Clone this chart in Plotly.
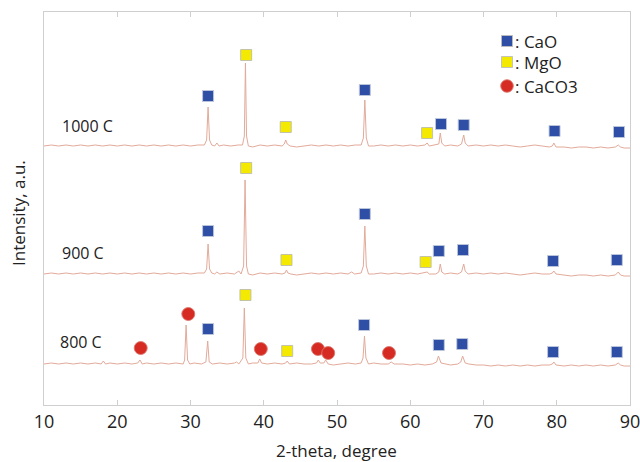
import plotly.graph_objects as go

# ---------------- data ----------------
samples = ["800 C", "900 C", "1000 C"]
offsets = [41, 131, 259]          # vertical stacking offset of each pattern (a.u.)

# XRD traces: (2-theta, intensity above own baseline)
pat_800 = [(10,0),(11,1),(12,0),(13,1),(14,0),(15,1),(16,0),(17,1),(17.8,0),(18.1,3),(18.4,0),(19,1),(20,0),(21,1),(22,0),
           (22.8,1),(23.1,4),(23.4,0),(24,1),(25,0),(26,1),(27,0),(28,1),(29,0),(29.2,4),(29.4,39),(29.6,4),(29.9,0),(30.5,1),
           (31.5,0),(32.1,2),(32.35,23),(32.55,2),(33,0),(34,1),(35,0),(36,1),(36.3,2),(36.6,0),(37.15,6),(37.35,56),(37.55,6),
           (37.9,0),(38.5,1),(39.2,1),(39.45,5),(39.7,1),(40.5,0),(41.5,1),(42.5,0),(43.0,1),(43.2,3),(43.5,0),(44.5,1),(45.5,0),
           (46.5,0),(47.2,1),(47.45,4),(47.7,1),(48.2,1),(48.45,4),(48.8,0),(49.5,-1),(50.5,0),(51.5,1),(52.5,0),(53.3,1),
           (53.55,6),(53.75,28),(53.95,6),(54.3,0),(55,1),(56,0),(57,0),(57.4,2),(57.8,0),(59,0),(60,-1),(61,0),(62,-1),(63,0),
           (63.6,2),(63.85,8),(64.2,1),(64.8,0),(65.5,-1),(66.5,0),(66.9,2),(67.15,8),(67.5,1),(68,0),(69,-1),(70,-1),(71,-2),
           (72,-1),(73,-2),(74,-1),(75,-2),(76,-1),(77,-2),(78,-1),(79,-1),(79.4,0),(79.6,2),(79.9,-1),(81,-2),(82,-1),(83,-2),
           (84,-1),(85,-2),(86,-1),(87,-2),(88,-1),(88.4,1),(88.7,-1),(89.2,-2),(90,-2)]
pat_900 = [(10,0),(11,1),(12,0),(13,1),(14,0),(15,1),(16,0),(17,1),(18,0),(19,1),(20,0),(21,1),(22,0),(23,1),(24,0),(25,1),
           (26,0),(27,1),(28,0),(29,1),(30,0),(31,1),(31.9,1),(32.2,5),(32.4,30),(32.6,5),(32.9,1),(33.3,0),(33.6,2),(34,0),
           (35,1),(36,0),(36.6,3),(36.9,0),(37.25,8),(37.45,94),(37.65,8),(37.9,0),(38.5,-1),(39.5,1),(40.5,0),(41.5,1),(42.5,0),
           (42.9,1),(43.1,4),(43.3,1),(43.7,0),(44.5,-1),(45.5,0),(46.5,1),(47.5,0),(48.5,1),(49.5,0),(50.5,1),(51.5,0),(52,2),
           (52.4,0),(53.3,1),(53.6,8),(53.8,48),(54.0,8),(54.3,0),(55,0),(56,1),(57,0),(58,1),(59,0),(60,1),(61,0),(62,1),
           (62.3,2),(62.6,0),(63.5,0),(63.9,2),(64.1,10),(64.3,2),(64.7,0),(65.5,1),(66.5,0),(67.0,2),(67.3,10),(67.5,3),(67.9,0),
           (69,1),(70,0),(71,1),(72,0),(73,1),(74,0),(75,-1),(76,0),(77,1),(78,0),(79,0),(79.4,1),(79.6,3),(79.9,0),(81,-1),
           (82,-2),(83,-1),(84,-1),(85,-2),(86,-1),(87,-2),(88,-1),(88.4,2),(88.7,-1),(89.2,-2),(90,-2)]
pat_1000 = [(10,0),(11,1),(12,0),(13,1),(14,0),(15,1),(16,0),(17,1),(18,0),(19,1),(20,0),(21,1),(22,0),(23,1),(24,0),(25,1),
            (26,0),(27,1),(28,0),(29,1),(30,0),(31,1),(31.9,1),(32.2,6),(32.4,39),(32.6,6),(32.9,1),(33.3,0),(33.6,3),(33.9,0),
            (34.5,1),(35.5,0),(36.5,1),(37.1,1),(37.35,10),(37.5,83),(37.65,10),(37.9,0),(38.5,-1),(39.5,1),(40.5,0),(41.5,1),
            (42.5,0),(42.8,2),(43.0,6),(43.2,2),(43.6,0),(44.5,-1),(45.5,0),(46.5,1),(47.5,0),(48.5,1),(49.5,0),(50.5,1),
            (51.5,0),(52.5,1),(53.3,1),(53.6,8),(53.8,46),(54.0,8),(54.3,0),(55,0),(56,1),(57,0),(58,1),(59,0),(60,1),(61,0),
            (62,1),(62.3,3),(62.6,0),(63.5,1),(63.9,2),(64.1,13),(64.3,3),(64.7,0),(65.5,1),(66.5,0),(67.0,2),(67.3,11),
            (67.5,3),(67.9,0),(69,1),(70,0),(71,1),(72,0),(73,1),(74,0),(75,-1),(76,0),(77,1),(78,0),(79,-1),(79.4,0),
            (79.6,3),(79.9,-1),(81,-1),(82,-2),(83,-1),(84,-1),(85,-2),(86,-1),(87,-2),(88,-1),(88.4,1),(88.7,-1),(89.2,-2),(90,-2)]
patterns = [pat_800, pat_900, pat_1000]

# phase markers (2-theta, height above own baseline)
cao_x_800 = [32.4, 53.7, 63.9, 67.1, 79.5, 88.2]
cao_y_800 = [35, 39, 19, 20, 12, 12]
cao_x_900 = [32.4, 53.8, 63.9, 67.2, 79.5, 88.2]
cao_y_900 = [43, 60, 23, 24, 13, 14]
cao_x_1000 = [32.4, 53.8, 64.2, 67.3, 79.7, 88.5]
cao_y_1000 = [50, 56, 22, 21, 15, 14]

mgo_x_800 = [37.5, 43.2]
mgo_y_800 = [69, 13]
mgo_x_900 = [37.6, 43.1, 62.1]
mgo_y_900 = [106, 14, 12]
mgo_x_1000 = [37.6, 43.0, 62.3]
mgo_y_1000 = [91, 19, 13]

caco3_x_800 = [23.2, 29.7, 39.6, 47.4, 48.8, 57.1]
caco3_y_800 = [16, 50, 15, 15, 11, 11]

x_ticks = [10, 20, 30, 40, 50, 60, 70, 80, 90]

# ---------------- figure ----------------
FONT = "Open Sans"
LINE_COL = "#E2AA9A"
BLUE = "#2F4FA6"
YELLOW = "#F4E900"
RED = "#D52B22"

fig = go.Figure()

for pat, off in zip(patterns, offsets):
    fig.add_trace(go.Scatter(
        x=[p[0] for p in pat], y=[p[1] + off for p in pat],
        mode="lines", line=dict(color=LINE_COL, width=1),
        showlegend=False, hoverinfo="skip"))

def add_markers(xs_list, ys_list, offs, color, symbol, size, border):
    xs, ys = [], []
    for xl, yl, off in zip(xs_list, ys_list, offs):
        xs += xl
        ys += [v + off for v in yl]
    fig.add_trace(go.Scatter(
        x=xs, y=ys, mode="markers",
        marker=dict(color=color, symbol=symbol, size=size,
                    line=dict(color=border, width=1)),
        showlegend=False, hoverinfo="skip"))

add_markers([cao_x_800, cao_x_900, cao_x_1000], [cao_y_800, cao_y_900, cao_y_1000],
            offsets, BLUE, "square", 11, "rgba(190,200,220,0.9)")
add_markers([mgo_x_800, mgo_x_900, mgo_x_1000], [mgo_y_800, mgo_y_900, mgo_y_1000],
            offsets, YELLOW, "square", 11, "rgba(190,190,170,0.9)")
add_markers([caco3_x_800], [caco3_y_800], [offsets[0]], RED, "circle", 13, "rgba(220,120,110,0.9)")

# sample labels
label_y = [63, 152, 279]
label_x = [11.85, 12.2, 12.2]
for s, lx, ly in zip(samples, label_x, label_y):
    fig.add_annotation(x=lx, y=ly, text=s, showarrow=False, xanchor="left", yanchor="middle",
                       font=dict(family=FONT, size=16, color="#222"))

# manual legend (paper coords)
W, H = 640, 462
L, R, T, B = 44, 10, 12, 57
pw, ph = W - L - R, H - T - B
def px(xp): return (xp - L) / pw
def py(yp): return (H - B - yp) / ph

legend_items = [(": CaO", BLUE, "square", 41), (": MgO", YELLOW, "square", 62), (": CaCO3", RED, "circle", 86)]
for text, col, sym, yc in legend_items:
    if sym == "square":
        fig.add_shape(type="rect", xref="paper", yref="paper",
                      x0=px(501.5), x1=px(512.5), y0=py(yc + 5.5), y1=py(yc - 5.5),
                      fillcolor=col, line=dict(color="rgba(190,190,190,0.9)", width=1))
    else:
        fig.add_shape(type="circle", xref="paper", yref="paper",
                      x0=px(500.7), x1=px(513.3), y0=py(yc + 6.3), y1=py(yc - 6.3),
                      fillcolor=col, line=dict(color="rgba(220,120,110,0.9)", width=1))
    fig.add_annotation(xref="paper", yref="paper", x=px(513), y=py(yc), text=text,
                       showarrow=False, xanchor="left", yanchor="middle",
                       font=dict(family=FONT, size=17, color="#222"))

# axis titles
fig.add_annotation(xref="paper", yref="paper", x=px(336), y=py(450), text="2-theta, degree",
                   showarrow=False, xanchor="center", yanchor="middle",
                   font=dict(family=FONT, size=17, color="#222"))
fig.add_annotation(xref="paper", yref="paper", x=px(18), y=py(213), text="Intensity, a.u.",
                   showarrow=False, xanchor="center", yanchor="middle", textangle=-90,
                   font=dict(family=FONT, size=17, color="#222"))

fig.update_layout(
    width=W, height=H,
    margin=dict(l=L, r=R, t=T, b=B, pad=0, autoexpand=False),
    paper_bgcolor="white", plot_bgcolor="white",
    showlegend=False,
    xaxis=dict(range=[10, 90], tickvals=x_ticks, ticktext=[str(t) for t in x_ticks],
               showgrid=False, zeroline=False, showline=True, linecolor="#CFCFCF", linewidth=1,
               mirror="ticks", ticks="inside", ticklen=5, tickcolor="#CFCFCF",
               ticklabeloverflow="allow", automargin=False,
               tickfont=dict(family=FONT, size=18, color="#222")),
    yaxis=dict(range=[0, 393], showticklabels=False, showgrid=False, zeroline=False,
               showline=True, linecolor="#CFCFCF", linewidth=1, mirror=True, ticks="",
               automargin=False),
)

fig.write_html("out.html", config={"displayModeBar": False},
               post_script="document.body.style.margin='0px';document.body.style.overflow='hidden';")
